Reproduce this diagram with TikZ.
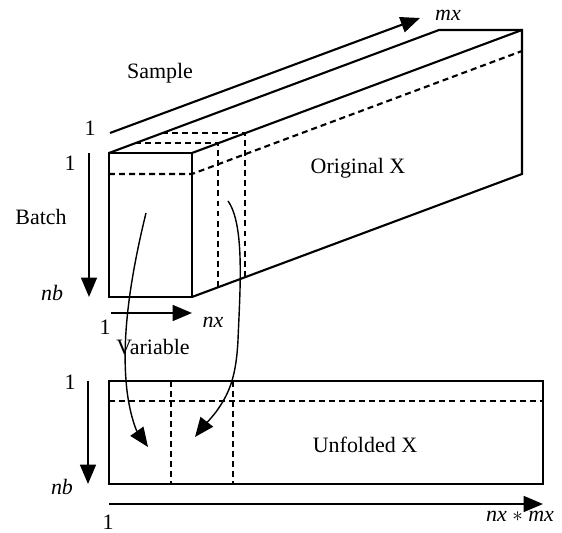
\documentclass[tikz,border=0pt]{standalone}
\usepackage{fontspec}
\setmainfont{Liberation Serif}
\usetikzlibrary{arrows.meta,calc}
\def\wThin{0.8pt}
\def\wRegular{1.2pt}
\tikzset{
  fig/.style={font=\fontsize{12.5}{15}\selectfont},
  edge/.style={draw=black, line width=\wRegular},
  hid/.style={draw=black, line width=\wRegular, dash pattern=on 3.4pt off 2.3pt},
  axis/.style={draw=black, line width=\wRegular, -{Triangle[length=11pt, width=9pt]}},
  flow/.style={draw=black, line width=\wThin, -{Triangle[length=11pt, width=9pt]}},
  lbl/.style={inner sep=0pt},
  var/.style={inner sep=0pt, font=\fontsize{12.5}{15}\selectfont\itshape},
}

\begin{document}
\begin{tikzpicture}[fig, x=0.02cm, y=-0.02cm]
% pixel grid 562 x 533, y runs downwards
\useasboundingbox (0,0) rectangle (562,533);

% original X: front face and depth
\coordinate (ftl) at (109,153);
\coordinate (ftr) at (192,153);
\coordinate (fbl) at (109,297);
\coordinate (fbr) at (192,297);
\coordinate (btl) at (439,30);
\coordinate (btr) at (522,30);
\coordinate (bbr) at (522,174);
% first batch row
\coordinate (rowl) at (109,174);
\coordinate (rowr) at (192,174);
\coordinate (rowb) at (522,51);
% one variable slice along the depth
\coordinate (s1l) at ($(ftl)!0.0788!(btl)$);
\coordinate (s1r) at ($(ftr)!0.0788!(btr)$);
\coordinate (s1b) at ($(fbr)!0.0788!(bbr)$);
\coordinate (s2l) at ($(ftl)!0.1606!(btl)$);
\coordinate (s2r) at ($(ftr)!0.1606!(btr)$);
\coordinate (s2b) at ($(fbr)!0.1606!(bbr)$);

\draw[edge] (ftl) rectangle (fbr);
\draw[edge] (ftl) -- (btl) -- (btr) -- (bbr) -- (fbr);
\draw[edge] (ftr) -- (btr);
\draw[hid] (rowl) -- (rowr) -- (rowb);
\draw[hid] (s1l) -- (s1r) -- (s1b);
\draw[hid] (s2l) -- (s2r) -- (s2b);

% unfolded X
\coordinate (utl) at (109,381);
\coordinate (ubr) at (543,484);
\draw[edge] (utl) rectangle (ubr);
\draw[hid] (109,401) -- (543,401);
\draw[hid] (171,381) -- (171,484);
\draw[hid] (233,381) -- (233,484);

% axes
\coordinate (sa) at (110,133);
\coordinate (sb) at (420,18);
\coordinate (ba) at (89,153);
\coordinate (bb) at (89,297);
\coordinate (va) at (111,313);
\coordinate (vb) at (192,313);
\coordinate (la) at (88,381);
\coordinate (lb) at (88,484);
\coordinate (ua) at (109,504);
\coordinate (ub) at (543,504);
\draw[axis] (sa) -- (sb);
\draw[axis] (ba) -- (bb);
\draw[axis] (va) -- (vb);
\draw[axis] (la) -- (lb);
\draw[axis] (ua) -- (ub);

% unfolding arrows
\coordinate (fa) at (146,213);
\coordinate (fb) at (148,447);
\coordinate (ga) at (228,201);
\coordinate (gb) at (195,437);
\draw[flow] (fa) .. controls (132,270) and (122,330) .. (126,380) .. controls (128,410) and (136,430) .. (fb);
\draw[flow] (ga) .. controls (245,225) and (240,290) .. (238,340) .. controls (236,380) and (228,395) .. (216,412) .. controls (208,422) and (202,428) .. (gb);

% labels
\node[lbl] (tsample) at (160,73) {Sample};
\node[lbl] (tone1) at (90,128) {1};
\node[var] (tmx) at (448,15) {mx};
\node[lbl] (torig) at (358,168) {Original X};
\node[lbl] (tone2) at (70,163) {1};
\node[lbl] (tbatch) at (41,217) {Batch};
\node[var] (tnb1) at (52,293) {nb};
\node[lbl] (tone3) at (105,327) {1};
\node[var] (tnx) at (213,322) {nx};
\node[lbl] (tvar) at (153,347) {Variable};
\node[lbl] (tone4) at (70,382) {1};
\node[var] (tnb2) at (62,487) {nb};
\node[lbl] (tunf) at (365,445) {Unfolded X};
\node[lbl] (tone5) at (108,522) {1};
\node[lbl] (tnxmx) at (520,516) {\textit{nx} $\ast$ \textit{mx}};
\end{tikzpicture}
\end{document}
